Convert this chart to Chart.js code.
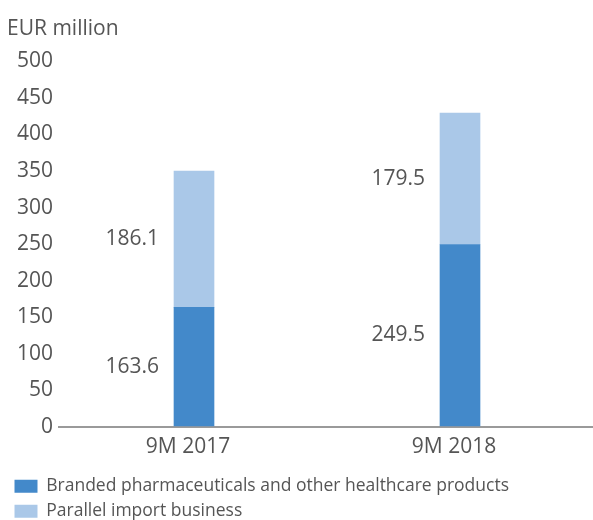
<!DOCTYPE html>
<html>
<head>
<meta charset="utf-8">
<script src="https://cdn.jsdelivr.net/npm/chart.js@4"></script>
<style>
  html, body { margin: 0; padding: 0; background: #fff; }
  #wrap { width: 593px; height: 520px; position: relative; }
</style>
</head>
<body>
<div id="wrap"><canvas id="chart"></canvas></div>
<script>
// Sales split, EUR million
const periods = ['9M 2017', '9M 2018'];
const branded = [163.6, 249.5];
const parallelImport = [186.1, 179.5];
const seriesNames = ['Branded pharmaceuticals and other healthcare products', 'Parallel import business'];
const yMax = 500;
const yStep = 50;

const textColor = '#555';
Chart.defaults.font.family = '"Open Sans", sans-serif';
Chart.defaults.color = textColor;

// value labels to the left of each bar segment
const valueLabels = {
  id: 'valueLabels',
  afterDatasetsDraw(chart) {
    const ctx = chart.ctx;
    ctx.save();
    ctx.font = '21px "Open Sans", sans-serif';
    ctx.fillStyle = textColor;
    ctx.textAlign = 'right';
    ctx.textBaseline = 'middle';
    chart.data.datasets.forEach((ds, i) => {
      chart.getDatasetMeta(i).data.forEach((bar, j) => {
        const { x, y, base, width } = bar.getProps(['x', 'y', 'base', 'width'], true);
        ctx.fillText(ds.data[j].toFixed(1), x - width / 2 - 15, (y + base) / 2);
      });
    });
    ctx.restore();
  }
};

new Chart(document.getElementById('chart'), {
  type: 'bar',
  data: {
    labels: periods,
    datasets: [
      { label: seriesNames[0], data: branded, backgroundColor: '#4389ca', barThickness: 40 },
      { label: seriesNames[1], data: parallelImport, backgroundColor: '#aac8e8', barThickness: 40 },
    ],
  },
  options: {
    responsive: true,
    maintainAspectRatio: false,
    animation: false,
    layout: { padding: { left: 7, right: 0, top: 0, bottom: -10 } },
    scales: {
      x: {
        stacked: true,
        grid: { display: false, drawTicks: false },
        border: { display: false },
        afterFit: (s) => { s.height = 43; },
        ticks: { font: { size: 21 }, color: textColor, padding: 7, labelOffset: -6, maxRotation: 0 },
      },
      y: {
        stacked: true,
        min: 0,
        max: yMax,
        afterFit: (s) => { s.width = 54; },
        ticks: { stepSize: yStep, font: { size: 21 }, color: textColor, padding: 5 },
        border: { display: false },
        grid: {
          color: (c) => (c.tick && c.tick.value === 0 ? '#9a9a9a' : 'rgba(0,0,0,0)'),
          lineWidth: 2,
          tickLength: 3,
        },
      },
    },
    plugins: {
      title: {
        display: true,
        text: 'EUR million',
        align: 'start',
        font: { size: 21, weight: 'normal' },
        color: textColor,
        padding: { top: 16, bottom: 20 },
      },
      legend: {
        position: 'bottom',
        align: 'start',
        labels: { boxWidth: 23, boxHeight: 13, padding: 7.5, font: { size: 17.5 }, color: textColor },
      },
      tooltip: { enabled: false },
    },
  },
  plugins: [valueLabels],
});
</script>
</body>
</html>
